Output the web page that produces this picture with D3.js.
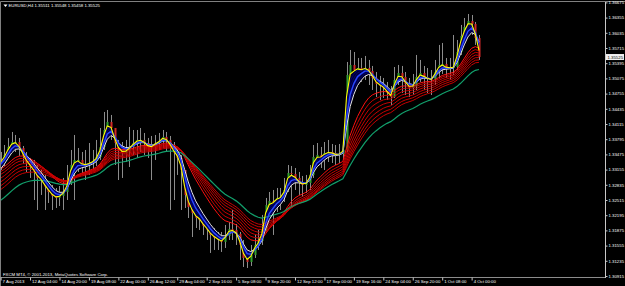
<!DOCTYPE html>
<html>
<head>
<meta charset="utf-8">
<script src="https://cdn.jsdelivr.net/npm/d3@7"></script>
<style>
html, body { margin: 0; padding: 0; background: #000; }
svg { display: block; }
text { font-family: "Liberation Sans", Arial, sans-serif; }
</style>
</head>
<body>
<div id="chart"></div>
<script>
// EURUSD H4, one entry per 8 hours
var closes = [
  1.33294, 1.33463, 1.33631, 1.33736, 1.33736, 1.33610, 1.33442, 1.33294, 1.33210, 1.33105,
  1.32979, 1.32915, 1.32789, 1.32684, 1.32600, 1.32558, 1.32600, 1.32684, 1.32873, 1.33252,
  1.33358, 1.33358, 1.33252, 1.33252, 1.33294, 1.33336, 1.33421, 1.33631, 1.33989, 1.34158,
  1.34031, 1.33715, 1.33547, 1.33505, 1.33547, 1.33631, 1.33715, 1.33779, 1.33779, 1.33715,
  1.33631, 1.33631, 1.33715, 1.33758, 1.33842, 1.33779, 1.33652, 1.33505, 1.33400, 1.33147,
  1.32621, 1.32368, 1.32242, 1.32136, 1.32094, 1.31968, 1.31884, 1.31779, 1.31715, 1.31673,
  1.31631, 1.31758, 1.31905, 1.31884, 1.31800, 1.31568, 1.31294, 1.31210, 1.31358, 1.31568,
  1.31652, 1.31884, 1.32410, 1.32494, 1.32473, 1.32558, 1.32579, 1.32726, 1.33084, 1.33063,
  1.32979, 1.32873, 1.32831, 1.32873, 1.33042, 1.33421, 1.33463, 1.33421, 1.33505, 1.33526,
  1.33505, 1.33463, 1.33484, 1.33568, 1.35147, 1.35358, 1.35252, 1.35294, 1.35252, 1.35294,
  1.35231, 1.35084, 1.34958, 1.34915, 1.34873, 1.34768, 1.34684, 1.35042, 1.35189, 1.35105,
  1.34958, 1.34873, 1.34915, 1.35105, 1.35189, 1.35105, 1.35063, 1.35042, 1.35210, 1.35358,
  1.35379, 1.35294, 1.35294, 1.35315, 1.35631, 1.35968, 1.36158, 1.36284, 1.36221, 1.35926,
  1.35525
];
var highs = [
  1.33526, 1.33673, 1.33821, 1.33947, 1.33884, 1.33821, 1.33652, 1.33526, 1.33400, 1.33358,
  1.33252, 1.33147, 1.33042, 1.32894, 1.32831, 1.32768, 1.32810, 1.32979, 1.33252, 1.33568,
  1.33884, 1.33610, 1.33526, 1.33568, 1.33715, 1.33568, 1.33779, 1.34031, 1.34368, 1.34410,
  1.34305, 1.34031, 1.33779, 1.33736, 1.33779, 1.34052, 1.33989, 1.33989, 1.34031, 1.33926,
  1.33821, 1.33863, 1.33884, 1.33926, 1.33989, 1.33947, 1.33863, 1.33736, 1.33568, 1.33463,
  1.33147, 1.32621, 1.32515, 1.32368, 1.32263, 1.32200, 1.32052, 1.31968, 1.31926, 1.31842,
  1.31842, 1.31989, 1.32052, 1.32305, 1.32010, 1.31842, 1.31673, 1.31463, 1.31568, 1.31779,
  1.31884, 1.32200, 1.32558, 1.32684, 1.32726, 1.32768, 1.32768, 1.32979, 1.33252, 1.33231,
  1.33189, 1.33105, 1.33021, 1.33042, 1.33252, 1.33673, 1.33715, 1.33631, 1.33736, 1.33779,
  1.33694, 1.33673, 1.33694, 1.33821, 1.35421, 1.35673, 1.35631, 1.35505, 1.35505, 1.35547,
  1.35463, 1.35337, 1.35210, 1.35126, 1.35084, 1.35000, 1.34915, 1.35315, 1.35358, 1.35337,
  1.35210, 1.35084, 1.35168, 1.35568, 1.35463, 1.35337, 1.35294, 1.35252, 1.35463, 1.35779,
  1.35821, 1.35505, 1.35505, 1.35989, 1.35884, 1.36200, 1.36347, 1.36431, 1.36410, 1.36263,
  1.35989
];
var lows = [
  1.33147, 1.33231, 1.33400, 1.33568, 1.33526, 1.33442, 1.33273, 1.33105, 1.32979, 1.32515,
  1.32305, 1.32621, 1.32305, 1.32452, 1.32305, 1.32347, 1.32389, 1.32305, 1.32515, 1.32831,
  1.32515, 1.33105, 1.33042, 1.32936, 1.33042, 1.33147, 1.33231, 1.33358, 1.33568, 1.33926,
  1.33779, 1.33252, 1.32936, 1.32979, 1.33315, 1.33210, 1.33463, 1.33400, 1.33526, 1.33463,
  1.33400, 1.32936, 1.33358, 1.33568, 1.33610, 1.33526, 1.32305, 1.32515, 1.33042, 1.32305,
  1.32347, 1.32136, 1.31736, 1.31926, 1.31884, 1.31779, 1.31673, 1.31400, 1.31463, 1.31463,
  1.31421, 1.31505, 1.31673, 1.31673, 1.31568, 1.31252, 1.31105, 1.31084, 1.31126, 1.31294,
  1.31463, 1.31568, 1.31842, 1.32200, 1.31779, 1.32263, 1.32305, 1.32473, 1.32684, 1.32368,
  1.32726, 1.32621, 1.32579, 1.32663, 1.32726, 1.32979, 1.33252, 1.33189, 1.33147, 1.33315,
  1.33294, 1.33252, 1.33294, 1.33358, 1.33526, 1.35084, 1.35042, 1.35084, 1.35000, 1.35042,
  1.34936, 1.34831, 1.34684, 1.34621, 1.34663, 1.34621, 1.34515, 1.34663, 1.34936, 1.34768,
  1.34726, 1.34684, 1.34726, 1.34831, 1.35000, 1.34831, 1.34768, 1.34726, 1.34936, 1.35084,
  1.35168, 1.35084, 1.35042, 1.35147, 1.35252, 1.35568, 1.35884, 1.36052, 1.35989, 1.35779,
  1.35463
];
var firstOpen = 1.33358;

var timeLabels = ["7 Aug 2013", "12 Aug 04:00", "14 Aug 20:00", "19 Aug 08:00", "22 Aug 00:00",
  "26 Aug 12:00", "29 Aug 04:00", "2 Sep 16:00", "5 Sep 08:00", "9 Sep 20:00", "12 Sep 12:00",
  "17 Sep 00:00", "19 Sep 16:00", "24 Sep 04:00", "26 Sep 20:00", "1 Oct 08:00", "4 Oct 00:00"];
var labelBars = [0, 8, 16, 24, 32, 40, 48, 56, 64, 72, 80, 88, 96, 104, 112, 120, 128];

var priceTicks = [1.30915, 1.31235, 1.31555, 1.31875, 1.32195, 1.32515, 1.32835, 1.33155,
  1.33475, 1.33795, 1.34115, 1.34435, 1.34755, 1.35075, 1.35395, 1.35715, 1.36035, 1.36355, 1.36675];

var header = "EURUSD,H4  1.35511 1.35548 1.35458 1.35525";
var footer = "FXCM MT4, \u00a9 2001-2013, MetaQuotes Software Corp.";
var lastPrice = 1.35525;

// moving averages (periods in 8h bars) and their values at the left edge
var yellowPeriod = 1.8, yellowStart = 1.33358;
var navyPeriods = [2.3, 2.8, 3.3, 3.8, 4.3], navyStart = 1.33200;
var bluePeriod = 3.5, blueStart = 1.33252;
var whitePeriod = 5, whiteStart = 1.33105;
var redPeriods = [12, 14, 16, 18, 20, 22, 24];
var redStarts = [1.33147, 1.33084, 1.33021, 1.32936, 1.32852, 1.32768, 1.32684];
var greenPeriod = 30, greenStart = 1.32452;

function ema(values, period, start) {
  var a = 2 / (period + 1), v = start;
  return values.map(function(p) { v += a * (p - v); return v; });
}

var W = 625, H = 286;
var svg = d3.select("#chart").append("svg").attr("width", W).attr("height", H);
svg.append("rect").attr("width", W).attr("height", H).attr("fill", "#000");

var x = d3.scaleLinear().domain([0, closes.length - 1]).range([0.6, 479]);
var y = d3.scaleLinear().domain([priceTicks[0], priceTicks[priceTicks.length - 1]]).range([276, 2.4]);

svg.append("clipPath").attr("id", "plot")
  .append("rect").attr("x", 1).attr("y", 2).attr("width", 604).attr("height", 275);
var g = svg.append("g").attr("clip-path", "url(#plot)");

// candles
var bars = closes.map(function(c, i) {
  var o = i === 0 ? firstOpen : closes[i - 1];
  return {i: i, o: o, c: c, h: Math.max(highs[i], o, c), l: Math.min(lows[i], o, c)};
});
g.selectAll("line.wick").data(bars).enter().append("line")
  .attr("class", "wick")
  .attr("x1", function(d) { return Math.round(x(d.i)) + 0.5; })
  .attr("x2", function(d) { return Math.round(x(d.i)) + 0.5; })
  .attr("y1", function(d) { return y(d.h); })
  .attr("y2", function(d) { return y(d.l); })
  .attr("stroke", "#8c8c8c").attr("stroke-width", 1);
g.selectAll("rect.body").data(bars).enter().append("rect")
  .attr("class", "body")
  .attr("x", function(d) { return Math.round(x(d.i)) - 0.5; })
  .attr("width", 2)
  .attr("y", function(d) { return y(Math.max(d.o, d.c)); })
  .attr("height", function(d) { return Math.max(1, Math.abs(y(d.o) - y(d.c))); })
  .attr("fill", function(d) { return d.c >= d.o ? "#30a030" : "#d02828"; });

var line = d3.line().x(function(d, i) { return x(i); }).y(function(d) { return y(d); });

var yellow = ema(closes, yellowPeriod, yellowStart);
var white = ema(closes, whitePeriod, whiteStart);

// dark band between the fast and the slow short average
g.append("path")
  .datum(yellow)
  .attr("d", d3.area()
    .x(function(d, i) { return x(i); })
    .y0(function(d, i) { return y(white[i]); })
    .y1(function(d) { return y(d); }))
  .attr("fill", "#000030");

navyPeriods.forEach(function(p) {
  g.append("path").datum(ema(closes, p, navyStart))
    .attr("d", line).attr("fill", "none")
    .attr("stroke", "#00009a").attr("stroke-width", 0.6);
});

redPeriods.forEach(function(p, k) {
  g.append("path").datum(ema(closes, p, redStarts[k]))
    .attr("d", line).attr("fill", "none")
    .attr("stroke", k === 0 ? "#ff1010" : "#c80000").attr("stroke-width", 1);
});

g.append("path").datum(ema(closes, greenPeriod, greenStart))
  .attr("d", line).attr("fill", "none")
  .attr("stroke", "#12a06c").attr("stroke-width", 1.2);

g.append("path").datum(white)
  .attr("d", line).attr("fill", "none")
  .attr("stroke", "#e6e6e6").attr("stroke-width", 1);

g.append("path").datum(ema(closes, bluePeriod, blueStart))
  .attr("d", line).attr("fill", "none")
  .attr("stroke", "#2a48ff").attr("stroke-width", 1.4);

g.append("path").datum(yellow)
  .attr("d", line).attr("fill", "none")
  .attr("stroke", "#ffff00").attr("stroke-width", 1.1);

// frame
svg.append("path").attr("d", "M0.5,286V1.5H625").attr("fill", "none").attr("stroke", "#808080");
svg.append("line").attr("x1", 0).attr("x2", 606).attr("y1", 277.5).attr("y2", 277.5)
  .attr("stroke", "#8c8c8c");
svg.append("line").attr("x1", 605.5).attr("x2", 605.5).attr("y1", 2).attr("y2", 278)
  .attr("stroke", "#c8c8c8");

// price axis
var yAxis = svg.append("g").attr("transform", "translate(605.5,0)")
  .call(d3.axisRight(y).tickValues(priceTicks).tickFormat(d3.format(".5f")).tickSize(2).tickPadding(1));
yAxis.select(".domain").remove();
yAxis.selectAll("line").attr("stroke", "#c8c8c8");
yAxis.selectAll("text").attr("fill", "#ffffff").style("font-size", "4.3px")
  .style("font-family", "Liberation Sans, Arial, sans-serif");

// time axis
var xAxis = svg.append("g").attr("transform", "translate(0,277.5)")
  .call(d3.axisBottom(x).tickValues(labelBars)
    .tickFormat(function(d, i) { return timeLabels[i]; }).tickSize(3));
xAxis.select(".domain").remove();
xAxis.selectAll("line").attr("stroke", "#c8c8c8");
xAxis.selectAll("text").attr("fill", "#ffffff").attr("text-anchor", "start")
  .attr("dx", 1.5).attr("y", 5.5).attr("dy", 0).style("font-size", "4.3px")
  .style("font-family", "Liberation Sans, Arial, sans-serif");

// current price marker
svg.append("rect").attr("x", 606).attr("y", y(lastPrice) - 3).attr("width", 18).attr("height", 6)
  .attr("fill", "#f0f0f0");
svg.append("text").attr("x", 607.5).attr("y", y(lastPrice) + 1.5)
  .attr("fill", "#000").style("font-size", "4.3px").text(d3.format(".5f")(lastPrice));

// header and footer
svg.append("path").attr("d", "M3.5,4.5H7.5L5.5,7Z").attr("fill", "#ffffff");
svg.append("text").attr("x", 8.5).attr("y", 7).attr("fill", "#ffffff")
  .style("font-size", "4.3px").text(header);
svg.append("text").attr("x", 3).attr("y", 275.5).attr("fill", "#ffffff")
  .style("font-size", "4.3px").text(footer);
</script>
</body>
</html>
